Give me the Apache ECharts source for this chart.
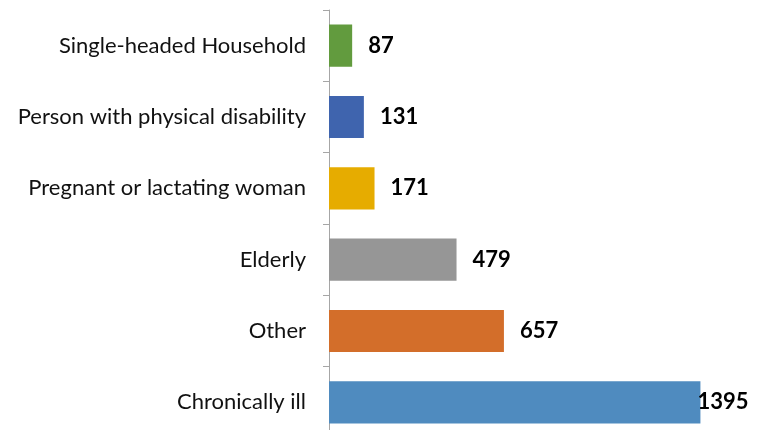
<!DOCTYPE html>
<html><head><meta charset="utf-8">
<script src="https://cdn.jsdelivr.net/npm/echarts@6/dist/echarts.min.js"></script>
<style>html,body{margin:0;padding:0;background:#fff}#c{width:768px;height:430px}</style>
</head><body><div id="c"></div>
<script>
const categories = ["Single-headed Household","Person with physical disability","Pregnant or lactating woman","Elderly","Other","Chronically ill"];
const values = [87,131,171,479,657,1395];
const colors = ["#629B3E","#3F64AE","#E6AC00","#969696","#D36E2A","#4F8BBF"];

const chart = echarts.init(document.getElementById('c'));
chart.setOption({
  animation:false,
  grid:{left:329,top:10,width:426,height:428,containLabel:false,outerBoundsMode:'none'},
  xAxis:{type:'value',min:0,max:1600,show:false},
  yAxis:{type:'category',data:categories,inverse:true,
    axisLine:{lineStyle:{color:'#A6A6A6',width:1}},
    axisTick:{show:true,length:6,lineStyle:{color:'#A6A6A6'}},
    axisLabel:{margin:23,color:'#111',fontSize:22,fontFamily:'Lato'}
  },
  series:[{type:'bar',barCategoryGap:'41%',
    data:values.map((v,i)=>{
      const d={value:v,itemStyle:{color:colors[i]}};
      if(i===values.length-1) d.label={distance:-3};
      return d;
    }),
    label:{show:true,position:'right',distance:16,color:'#000',fontWeight:'bold',fontSize:22,fontFamily:'Lato'}
  }]
});
</script></body></html>
